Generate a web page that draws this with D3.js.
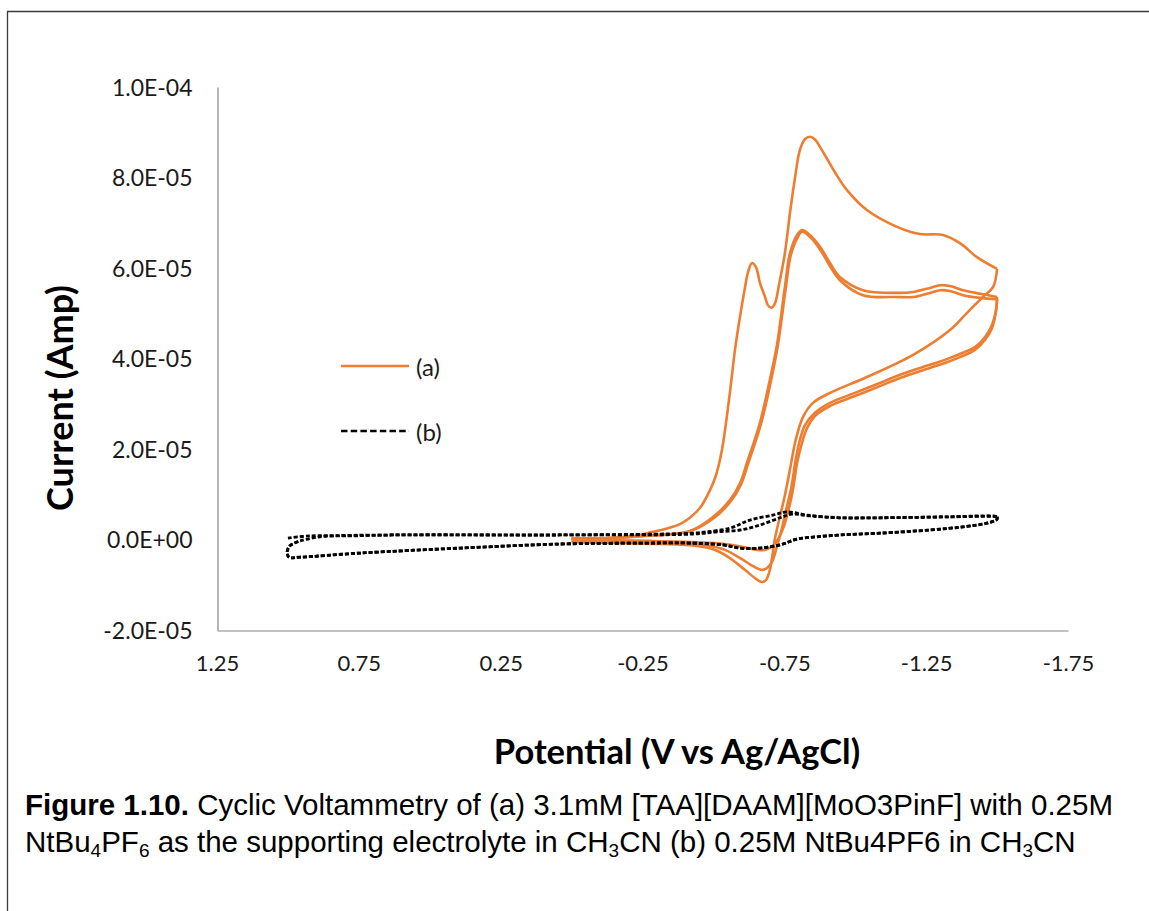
<!DOCTYPE html>
<html><head><meta charset="utf-8">
<script src="https://cdn.jsdelivr.net/npm/d3@7"></script>
<style>body{margin:0;background:#fff;} svg{display:block}</style>
</head><body>
<svg id="chart" width="1149" height="911"></svg>
<script>
// ---- tick labels ----
const xTicks = [1.25, 0.75, 0.25, -0.25, -0.75, -1.25, -1.75];
const xTickLabels = ["1.25", "0.75", "0.25", "-0.25", "-0.75", "-1.25", "-1.75"];
// current values in units of 1E-05 A
const yTicks = [-2, 0, 2, 4, 6, 8, 10];
const yTickLabels = ["-2.0E-05", "0.0E+00", "2.0E-05", "4.0E-05", "6.0E-05", "8.0E-05", "1.0E-04"];

// ---- series (a): [potential V, current x1E-05 A] ----
const a1Forward = [[0.0,0.03],[-0.100,0.03],[-0.206,0.06],[-0.287,0.17],[-0.340,0.25],[-0.382,0.34],[-0.417,0.48],[-0.453,0.70],[-0.488,1.09],[-0.509,1.42],[-0.530,1.98],[-0.555,3.09],[-0.576,4.19],[-0.590,4.78],[-0.611,5.56],[-0.622,5.91],[-0.636,6.11],[-0.650,6.02],[-0.664,5.67],[-0.682,5.36],[-0.692,5.18],[-0.703,5.12],[-0.717,5.22],[-0.731,5.62],[-0.752,6.33],[-0.770,7.22],[-0.788,8.01],[-0.805,8.61],[-0.823,8.85],[-0.840,8.90],[-0.858,8.84],[-0.877,8.66],[-0.900,8.42],[-0.930,8.10],[-0.971,7.72],[-1.041,7.28],[-1.147,6.91],[-1.228,6.75],[-1.309,6.73],[-1.369,6.55],[-1.429,6.24],[-1.500,5.98]];
const a1Reverse = [[-1.500,5.98],[-1.486,5.58],[-1.450,5.36],[-1.394,5.01],[-1.334,4.63],[-1.204,4.08],[-1.041,3.59],[-0.911,3.24],[-0.851,3.02],[-0.816,2.71],[-0.790,2.20],[-0.772,1.62],[-0.752,0.98],[-0.735,0.52],[-0.717,0.02],[-0.699,-0.67],[-0.685,-0.90],[-0.671,-0.94],[-0.650,-0.87],[-0.611,-0.67],[-0.558,-0.41],[-0.506,-0.23],[-0.435,-0.14],[-0.312,-0.10],[-0.171,-0.08],[0.0,-0.06]];
const a2Forward = [[0.0,0.02],[-0.100,0.02],[-0.241,0.08],[-0.417,0.19],[-0.499,0.50],[-0.558,0.87],[-0.594,1.25],[-0.618,1.69],[-0.664,2.58],[-0.699,3.53],[-0.724,4.30],[-0.752,5.58],[-0.770,6.33],[-0.795,6.73],[-0.812,6.84],[-0.840,6.73],[-0.877,6.46],[-0.911,6.11],[-0.946,5.80],[-1.027,5.51],[-1.147,5.45],[-1.204,5.47],[-1.263,5.56],[-1.299,5.62],[-1.334,5.60],[-1.380,5.51],[-1.440,5.43],[-1.500,5.36]];
const a2Reverse = [[-1.500,5.36],[-1.496,5.07],[-1.482,4.74],[-1.457,4.47],[-1.422,4.25],[-1.369,4.10],[-1.316,3.97],[-1.263,3.86],[-1.158,3.64],[-1.087,3.46],[-0.999,3.24],[-0.911,3.02],[-0.858,2.80],[-0.823,2.53],[-0.805,2.20],[-0.790,1.76],[-0.775,1.16],[-0.758,0.70],[-0.742,0.26],[-0.724,-0.15],[-0.706,-0.50],[-0.685,-0.65],[-0.668,-0.67],[-0.640,-0.59],[-0.594,-0.41],[-0.541,-0.23],[-0.470,-0.12],[-0.347,-0.08],[-0.171,-0.06],[0.0,-0.03]];
const a3Forward = [[0.0,0.02],[-0.100,0.02],[-0.241,0.07],[-0.417,0.18],[-0.503,0.48],[-0.562,0.85],[-0.598,1.23],[-0.622,1.67],[-0.668,2.56],[-0.703,3.51],[-0.727,4.28],[-0.755,5.55],[-0.773,6.29],[-0.798,6.69],[-0.812,6.80],[-0.840,6.69],[-0.877,6.40],[-0.911,6.04],[-0.946,5.73],[-1.027,5.40],[-1.147,5.36],[-1.204,5.36],[-1.263,5.45],[-1.299,5.51],[-1.334,5.49],[-1.380,5.40],[-1.440,5.34],[-1.500,5.31]];
const a3Reverse = [[-1.500,5.31],[-1.496,5.03],[-1.482,4.67],[-1.457,4.41],[-1.422,4.19],[-1.369,4.03],[-1.316,3.90],[-1.263,3.79],[-1.158,3.57],[-1.087,3.39],[-0.999,3.17],[-0.911,2.95],[-0.858,2.73],[-0.830,2.46],[-0.812,2.13],[-0.795,1.69],[-0.780,1.09],[-0.765,0.66],[-0.749,0.30],[-0.731,0.04],[-0.710,-0.14],[-0.682,-0.23],[-0.654,-0.23],[-0.611,-0.17],[-0.541,-0.10],[-0.453,-0.06],[-0.276,-0.03],[0.0,-0.01]];

// ---- series (b): [potential V, current x1E-05 A] ----
const b1Forward = [[1.000,0.03],[0.922,0.08],[0.781,0.08],[0.630,0.10],[0.041,0.10],[-0.428,0.14],[-0.477,0.17],[-0.558,0.25],[-0.629,0.43],[-0.710,0.54],[-0.759,0.61],[-0.830,0.54],[-0.946,0.48],[-1.087,0.48],[-1.323,0.50],[-1.486,0.52],[-1.500,0.50]];
const b1Reverse = [[-1.500,0.50],[-1.500,0.45],[-1.464,0.36],[-1.380,0.28],[-1.263,0.21],[-1.087,0.14],[-0.946,0.10],[-0.865,0.06],[-0.795,0.01],[-0.735,-0.12],[-0.664,-0.19],[-0.594,-0.19],[-0.534,-0.12],[-0.428,-0.08],[-0.241,-0.08],[0.041,-0.10],[0.393,-0.19],[0.746,-0.30],[0.957,-0.39],[0.996,-0.39],[1.003,-0.28],[0.993,-0.14],[0.957,-0.03]];
const b2Forward = [[0.957,-0.03],[0.887,0.06],[0.630,0.10],[0.041,0.10],[-0.428,0.12],[-0.513,0.17],[-0.594,0.21],[-0.664,0.32],[-0.735,0.48],[-0.777,0.56],[-0.840,0.52],[-0.946,0.48],[-1.087,0.48],[-1.323,0.50],[-1.486,0.51],[-1.500,0.50]];
const b2Reverse = b1Reverse;

const seriesA = [a1Forward, a1Reverse, a2Forward, a2Reverse, a3Forward, a3Reverse];
const seriesB = [b1Forward, b1Reverse, b2Forward, b2Reverse];

// ---- drawing ----
const FONT = "Lato, 'Open Sans', sans-serif";
const svg = d3.select("#chart");
svg.append("rect").attr("width",1149).attr("height",911).attr("fill","#fff");
// outer frame
svg.append("path").attr("d","M7.5,911 V11.5 H1149").attr("fill","none").attr("stroke","#3a3a3a").attr("stroke-width",1.3);

const x = d3.scaleLinear().domain([1.25, -1.75]).range([217, 1068]);
const y = d3.scaleLinear().domain([-2, 10]).range([630, 87]);

const xAxis = d3.axisBottom(x).tickValues(xTicks).tickSize(0).tickFormat((d,i)=>xTickLabels[i]);
const yAxis = d3.axisLeft(y).tickValues(yTicks).tickSize(0).tickFormat((d,i)=>yTickLabels[i]);

const gx = svg.append("g").attr("transform","translate(0,630.5)").call(xAxis);
const gy = svg.append("g").attr("transform","translate(217.5,0)").call(yAxis);
[gx, gy].forEach(g=>{
  g.select(".domain").attr("stroke","#868686").attr("stroke-width",1.2);
  g.selectAll("text").attr("font-family",FONT).attr("font-size",22).attr("fill","#1a1a1a");
});
gy.selectAll("text").attr("font-size",23);
gx.selectAll("text").attr("dy",0).attr("y",40);
gy.selectAll("text").attr("x",-25).attr("dy","0.35em");

const line = d3.line().x(d=>x(d[0])).y(d=>y(d[1])).curve(d3.curveCatmullRom.alpha(0.5));

const gA = svg.append("g");
seriesA.forEach(seg=>{
  gA.append("path").attr("d",line(seg)).attr("fill","none").attr("stroke","#ED7D31").attr("stroke-width",2.6).attr("stroke-linejoin","round");
});
const gB = svg.append("g");
seriesB.forEach(seg=>{
  gB.append("path").attr("d",line(seg)).attr("fill","none").attr("stroke","#000").attr("stroke-width",2.8).attr("stroke-dasharray","4,2");
});

// legend
const leg = svg.append("g").attr("font-family",FONT).attr("font-size",24).attr("fill","#1a1a1a");
leg.append("line").attr("x1",341).attr("x2",409).attr("y1",366).attr("y2",366).attr("stroke","#ED7D31").attr("stroke-width",2.6);
leg.append("text").attr("x",416).attr("y",368).attr("dy","0.35em").text("(a)");
leg.append("line").attr("x1",341).attr("x2",409).attr("y1",431).attr("y2",431).attr("stroke","#000").attr("stroke-width",2.6).attr("stroke-dasharray","6.5,3.2");
leg.append("text").attr("x",416).attr("y",433).attr("dy","0.35em").text("(b)");

// axis titles
svg.append("text").attr("transform","translate(60,398) rotate(-90)").attr("text-anchor","middle").attr("dy","0.35em")
  .attr("font-family",FONT).attr("font-weight","bold").attr("font-size",36).attr("fill","#000").text("Current (Amp)");
svg.append("text").attr("x",677).attr("y",752).attr("text-anchor","middle").attr("dy","0.35em")
  .attr("font-family",FONT).attr("font-weight","bold").attr("font-size",34.5).attr("fill","#000").text("Potential (V vs Ag/AgCl)");

// caption
const cap = svg.append("g").attr("font-family","'Liberation Sans', Arial, sans-serif").attr("font-size",29.5).attr("fill","#000");
const l1 = cap.append("text").attr("x",25).attr("y",815);
l1.append("tspan").attr("font-weight","bold").text("Figure 1.10.");
l1.append("tspan").text(" Cyclic Voltammetry of (a) 3.1mM [TAA][DAAM][MoO3PinF] with 0.25M");
const l2 = cap.append("text").attr("x",25).attr("y",852);
const parts2 = [["NtBu",0],["4",1],["PF",0],["6",1],[" as the supporting electrolyte in CH",0],["3",1],["CN (b) 0.25M NtBu4PF6 in CH",0],["3",1],["CN",0]];
parts2.forEach((p,i)=>{
  const t = l2.append("tspan").text(p[0]);
  if(p[1]) t.attr("font-size",19).attr("dy",5);
  else if(i>0 && parts2[i-1][1]) t.attr("dy",-5);
});
</script>
</body></html>
